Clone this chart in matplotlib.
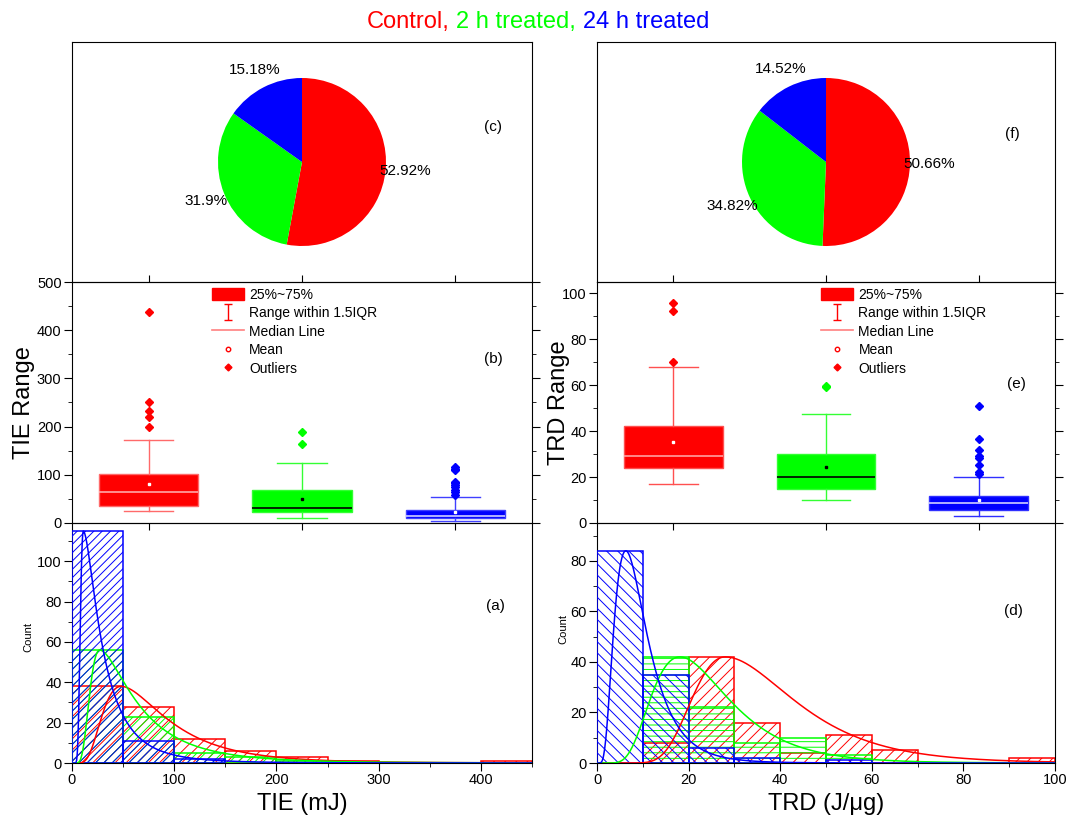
import numpy as np
import matplotlib
matplotlib.use('Agg')
import matplotlib.pyplot as plt
from matplotlib.patches import Patch
from matplotlib.lines import Line2D
from matplotlib.path import Path
from matplotlib.offsetbox import TextArea, HPacker, AnchoredOffsetbox
from matplotlib.ticker import MultipleLocator, NullFormatter

plt.rcParams['font.family'] = ['Liberation Sans', 'DejaVu Sans']
plt.rcParams['hatch.linewidth'] = 0.7

# ---------------- data ----------------
groups = ['Control,', '2 h treated,', '24 h treated']
colors = ['#ff0000', '#00ff00', '#0000ff']

# pie shares (%)
tie_share = [52.92, 31.9, 15.18]
trd_share = [50.66, 34.82, 14.52]

# box statistics, TIE (mJ)
tie_q1 = [35, 23.5, 10]
tie_med = [64, 32, 15]
tie_q3 = [102, 69, 28]
tie_mean = [81, 49, 23.5]
tie_whislo = [25, 11, 5]
tie_whishi = [173, 125, 54]
tie_out_control = [438, 250, 232, 219, 200]
tie_out_2h = [189, 163]
tie_out_24h = [116, 113, 109, 85, 82, 79, 75, 69, 64, 59]

# box statistics, TRD (J/ug)
trd_q1 = [24, 14.8, 5.8]
trd_med = [29.3, 20.2, 8.7]
trd_q3 = [42.2, 30.1, 11.6]
trd_mean = [35.4, 24.3, 10.2]
trd_whislo = [17.2, 10.2, 2.9]
trd_whishi = [68, 47.6, 20]
trd_out_control = [96, 92.4, 70]
trd_out_2h = [59.7, 59.4]
trd_out_24h = [51, 36.5, 31.7, 29.3, 28.5, 25.2, 22.3, 21.3]

# histograms
tie_bin_edges = [0, 50, 100, 150, 200, 250, 300, 350, 400, 450]
tie_count_control = [38, 28, 12, 6, 3, 1, 0, 0, 1]
tie_count_2h = [56, 23, 5, 3, 1, 0, 0, 0, 0]
tie_count_24h = [115, 11, 2, 0, 0, 0, 0, 0, 0]

trd_bin_edges = [0, 10, 20, 30, 40, 50, 60, 70, 80, 90, 100]
trd_count_control = [0, 8, 42, 16, 4, 11, 5, 0, 0, 2]
trd_count_2h = [0, 42, 22, 8, 10, 3, 0, 0, 0, 0]
trd_count_24h = [84, 35, 6, 2, 0, 1, 0, 0, 0, 0]

# fitted distribution curves (log-normal shaped): mode, peak, left/right log-widths
tie_fit_mode = [48, 27, 11]
tie_fit_peak = [38, 56, 115]
tie_fit_sl = [0.5, 0.45, 0.3]
tie_fit_sr = [0.63, 0.77, 0.85]
trd_fit_mode = [28, 18.1, 6.3]
trd_fit_peak = [42, 42, 84]
trd_fit_sl = [0.3, 0.44, 0.57]
trd_fit_sr = [0.42, 0.46, 0.55]

# ---------------- figure ----------------
fig = plt.figure(figsize=(10.71, 8.21), dpi=100)
W, H = 1071.0, 821.0


def frac_rect(x0, x1, y0, y1):
    return [x0 / W, 1 - y1 / H, (x1 - x0) / W, (y1 - y0) / H]


cols = [(72, 532), (597, 1055)]
rows = {'pie': (42, 282), 'box': (282, 523), 'hist': (523, 763)}

tick_kw = dict(direction='out', labelsize=10.5, pad=2)


def fit_curve(x, mode, peak, sl, sr):
    L = np.log(x / mode)
    s = np.where(L < 0, sl, sr)
    return peak * np.exp(-L ** 2 / (2 * s ** 2))


def draw_pie(ax, shares, tag, tagpos):
    ax.pie(shares, colors=colors, startangle=90, counterclock=False,
           autopct=lambda p: f"{round(p, 2):g}%", pctdistance=1.23,
           wedgeprops=dict(linewidth=0), textprops=dict(fontsize=11),
           frame=True, radius=1)
    r = 84.0
    hpx = rows['pie'][1] - rows['pie'][0]
    ax.set_aspect('equal', adjustable='datalim')
    ax.set_ylim(-hpx / 2 / r, hpx / 2 / r)
    ax.set_xlim(-1.0, 1.0)
    ax.set_xticks([])
    ax.set_yticks([])
    ax.text(tagpos[0], tagpos[1], tag, transform=ax.transAxes, fontsize=11,
            ha='center', va='center')


def draw_box(ax, q1, med, q3, mean, wlo, whi, outs, ylim, ymaj, ymin,
             whisk_c, med_c, mean_c, ylabel, tag, tagpos, legpos):
    for i in range(3):
        st = dict(med=med[i], q1=q1[i], q3=q3[i], whislo=wlo[i], whishi=whi[i],
                  mean=mean[i], fliers=np.array(outs[i]))
        ax.bxp([st], positions=[i + 1], widths=0.646, capwidths=0.32,
               patch_artist=True, showmeans=True, manage_ticks=False,
               boxprops=dict(facecolor=colors[i], edgecolor=whisk_c[i], linewidth=1),
               medianprops=dict(color=med_c[i], linewidth=1.2),
               whiskerprops=dict(color=whisk_c[i], linewidth=1),
               capprops=dict(color=whisk_c[i], linewidth=1),
               meanprops=dict(marker='s', markersize=1.6, markerfacecolor=mean_c[i],
                              markeredgecolor=mean_c[i], linestyle='none'),
               flierprops=dict(marker='D', markersize=3.6, markerfacecolor=colors[i],
                               markeredgecolor=colors[i], linestyle='none'))
    ax.set_xlim(0.5, 3.5)
    ax.set_ylim(*ylim)
    ax.set_xticks([1, 2, 3])
    ax.xaxis.set_major_formatter(NullFormatter())
    ax.yaxis.set_major_locator(MultipleLocator(ymaj))
    ax.yaxis.set_minor_locator(MultipleLocator(ymin))
    ax.tick_params(axis='x', which='both', top=True, bottom=True, length=5, **tick_kw)
    ax.tick_params(axis='y', which='major', left=True, right=True, length=5.5, **tick_kw)
    ax.tick_params(axis='y', which='minor', left=True, right=True, length=3, direction='out')
    ax.set_ylabel(ylabel, fontsize=17)
    ax.text(tagpos[0], tagpos[1], tag, transform=ax.transAxes, fontsize=11,
            ha='center', va='center')

    ibeam = Path([(-0.27, 0.5), (0.27, 0.5), (0, 0.5), (0, -0.5), (-0.27, -0.5), (0.27, -0.5)],
                 [Path.MOVETO, Path.LINETO, Path.MOVETO, Path.LINETO, Path.MOVETO, Path.LINETO])
    handles = [
        Patch(facecolor='#ff0000', edgecolor='#ff0000'),
        Line2D([], [], linestyle='none', marker=ibeam, markersize=11,
               markeredgecolor='#ff0000', markerfacecolor='none', markeredgewidth=1),
        Line2D([], [], color='#ff8080', linewidth=1.2),
        Line2D([], [], linestyle='none', marker='o', markersize=3.2,
               markerfacecolor='white', markeredgecolor='#ff0000'),
        Line2D([], [], linestyle='none', marker='D', markersize=3.5,
               markerfacecolor='#ff0000', markeredgecolor='#ff0000'),
    ]
    labels = ['25%~75%', 'Range within 1.5IQR', 'Median Line', 'Mean', 'Outliers']
    ax.legend(handles, labels, loc='upper left', bbox_to_anchor=legpos, frameon=False,
              fontsize=10, handlelength=2.3, handleheight=1.0, handletextpad=0.4,
              labelspacing=0.32, borderpad=0, borderaxespad=0)


def draw_hist(ax, edges, counts_list, hatches, xlim, ylim, xmaj, xmin, ymaj, ymin,
              modes, peaks, sls, srs, xlabel, tag, tagpos):
    edges = np.asarray(edges, dtype=float)
    width = edges[1] - edges[0]
    for i, counts in enumerate(counts_list):
        counts = np.asarray(counts, dtype=float)
        m = counts > 0
        ax.bar(edges[:-1][m], counts[m], width=width, align='edge',
               facecolor='none', edgecolor=colors[i], hatch=hatches[i],
               linewidth=1.1, zorder=2 + i)
    for i in range(3):
        xs = np.linspace(xlim[1] / 900.0, xlim[1], 900)
        ax.plot(xs, fit_curve(xs, modes[i], peaks[i], sls[i], srs[i]),
                color=colors[i], linewidth=1.1, zorder=6)
    ax.set_xlim(*xlim)
    ax.set_ylim(*ylim)
    ax.xaxis.set_major_locator(MultipleLocator(xmaj))
    ax.xaxis.set_minor_locator(MultipleLocator(xmin))
    ax.yaxis.set_major_locator(MultipleLocator(ymaj))
    ax.yaxis.set_minor_locator(MultipleLocator(ymin))
    ax.tick_params(which='major', length=5.5, top=False, right=False, **tick_kw)
    ax.tick_params(which='minor', length=3, top=False, right=False, direction='out')
    ax.set_xlabel(xlabel, fontsize=17)
    ax.xaxis.set_label_coords(0.5, -0.125)
    ax.set_ylabel('Count', fontsize=8)
    ax.text(tagpos[0], tagpos[1], tag, transform=ax.transAxes, fontsize=11,
            ha='center', va='center')


# ---------- left column: TIE ----------
axp1 = fig.add_axes(frac_rect(*cols[0], *rows['pie']))
axb1 = fig.add_axes(frac_rect(*cols[0], *rows['box']))
axh1 = fig.add_axes(frac_rect(*cols[0], *rows['hist']))

draw_pie(axp1, tie_share, '(c)', (0.916, 0.646))
draw_box(axb1, tie_q1, tie_med, tie_q3, tie_mean, tie_whislo, tie_whishi,
         [tie_out_control, tie_out_2h, tie_out_24h], (0, 500), 100, 50,
         ['#ff6a6a', '#33ff33', '#4040ff'], ['#ffa8a8', '#000000', '#d0d0ff'],
         ['white', 'black', 'white'], 'TIE Range', '(b)', (0.916, 0.680), (0.304, 0.975))
axb1.yaxis.set_label_coords(-0.080, 0.5)
draw_hist(axh1, tie_bin_edges, [tie_count_control, tie_count_2h, tie_count_24h],
          ['///', '////', '////'], (0, 450), (0, 119), 100, 50, 20, 10,
          tie_fit_mode, tie_fit_peak, tie_fit_sl, tie_fit_sr, 'TIE (mJ)', '(a)', (0.920, 0.654))
axh1.yaxis.set_label_coords(-0.083, 0.525)

# ---------- right column: TRD ----------
axp2 = fig.add_axes(frac_rect(*cols[1], *rows['pie']))
axb2 = fig.add_axes(frac_rect(*cols[1], *rows['box']))
axh2 = fig.add_axes(frac_rect(*cols[1], *rows['hist']))

draw_pie(axp2, trd_share, '(f)', (0.908, 0.617))
draw_box(axb2, trd_q1, trd_med, trd_q3, trd_mean, trd_whislo, trd_whishi,
         [trd_out_control, trd_out_2h, trd_out_24h], (0, 105), 20, 10,
         ['#ff5050', '#33ff33', '#3030ff'], ['#ffa0a0', '#000000', '#d0d0ff'],
         ['white', 'black', 'white'], 'TRD Range', '(e)', (0.916, 0.577), (0.489, 0.976))
axb2.yaxis.set_label_coords(-0.059, 0.5)
draw_hist(axh2, trd_bin_edges, [trd_count_control, trd_count_2h, trd_count_24h],
          ['///', '---', '\\\\\\'], (0, 100), (0, 95), 20, 10, 20, 10,
          trd_fit_mode, trd_fit_peak, trd_fit_sl, trd_fit_sr, 'TRD (J/\u03bcg)', '(d)', (0.909, 0.633))
axh2.yaxis.set_label_coords(-0.063, 0.558)

for ax in (axp1, axb1, axh1, axp2, axb2, axh2):
    ax.patch.set_visible(False)
for ax in (axb1, axb2):
    ax.set_zorder(3)

# ---------- coloured title ----------
parts = [TextArea(g, textprops=dict(color=c, fontsize=17)) for g, c in zip(groups, colors)]
pack = HPacker(children=parts, align='baseline', pad=0, sep=4.7)
title_box = AnchoredOffsetbox(loc='center', child=pack, pad=0, borderpad=0, frameon=False,
                              bbox_to_anchor=(538 / W, 1 - 22 / H),
                              bbox_transform=fig.transFigure)
fig.add_artist(title_box)

fig.savefig('out.png', dpi=100)
